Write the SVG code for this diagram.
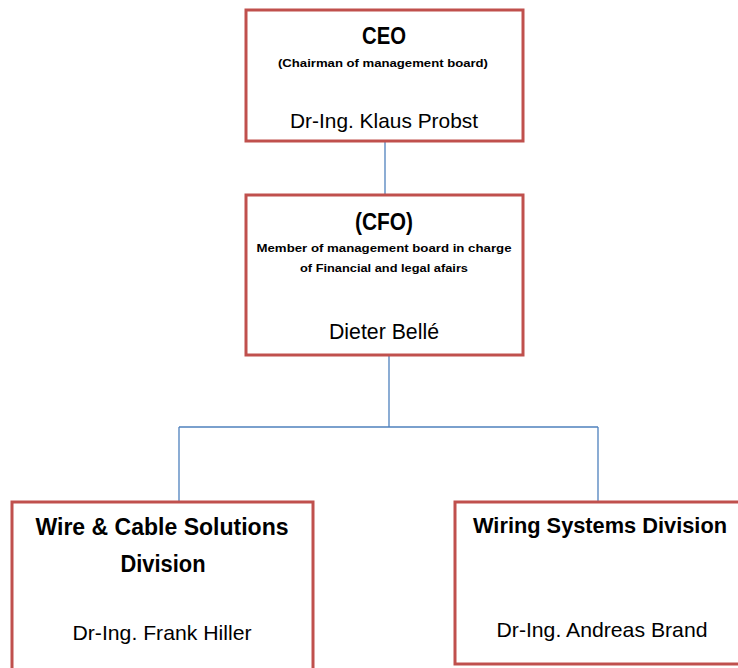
<svg xmlns="http://www.w3.org/2000/svg" width="738" height="668" viewBox="0 0 738 668">
<style>
.box{fill:#ffffff;stroke:#c0504d;stroke-width:3}
.conn{fill:none;stroke:#4f81bd;stroke-width:1.3}
text{font-family:"Liberation Sans",Arial,sans-serif;fill:#000;text-anchor:middle}
.b{font-weight:bold}
</style>
<rect width="738" height="668" fill="#ffffff"/>
<g id="connectors">
<path class="conn" d="M385,141 V195"/>
<path class="conn" d="M389,355 V427 M179,427 H598 M179,427 V502 M598,427 V502"/>
</g>
<g id="ceo">
<rect class="box" x="246" y="10" width="277" height="131"/>
<text class="b" x="384" y="44" font-size="24" textLength="44" lengthAdjust="spacingAndGlyphs">CEO</text>
<text class="b" x="383" y="67" font-size="10.5" textLength="210" lengthAdjust="spacingAndGlyphs">(Chairman of management board)</text>
<text x="384" y="128" font-size="21" textLength="188" lengthAdjust="spacingAndGlyphs">Dr-Ing. Klaus Probst</text>
</g>
<g id="cfo">
<rect class="box" x="246" y="195" width="277" height="160"/>
<text class="b" x="384" y="230" font-size="24" textLength="58" lengthAdjust="spacingAndGlyphs">(CFO)</text>
<text class="b" x="384" y="252" font-size="11" textLength="255" lengthAdjust="spacingAndGlyphs">Member of management board in charge</text>
<text class="b" x="384" y="272" font-size="11" textLength="168" lengthAdjust="spacingAndGlyphs">of Financial and legal afairs</text>
<text x="384" y="339" font-size="21.5" textLength="110" lengthAdjust="spacingAndGlyphs">Dieter Bellé</text>
</g>
<g id="wire-cable">
<rect class="box" x="12" y="502" width="301" height="180"/>
<text class="b" x="162" y="535" font-size="23" textLength="253" lengthAdjust="spacingAndGlyphs">Wire &amp; Cable Solutions</text>
<text class="b" x="163" y="572" font-size="23" textLength="85" lengthAdjust="spacingAndGlyphs">Division</text>
<text x="162" y="640" font-size="21" textLength="179" lengthAdjust="spacingAndGlyphs">Dr-Ing. Frank Hiller</text>
</g>
<g id="wiring-systems">
<rect class="box" x="455" y="502" width="295" height="162"/>
<text class="b" x="600" y="533" font-size="22.5" textLength="254" lengthAdjust="spacingAndGlyphs">Wiring Systems Division</text>
<text x="602" y="637" font-size="21" textLength="211" lengthAdjust="spacingAndGlyphs">Dr-Ing. Andreas Brand</text>
</g>
</svg>
